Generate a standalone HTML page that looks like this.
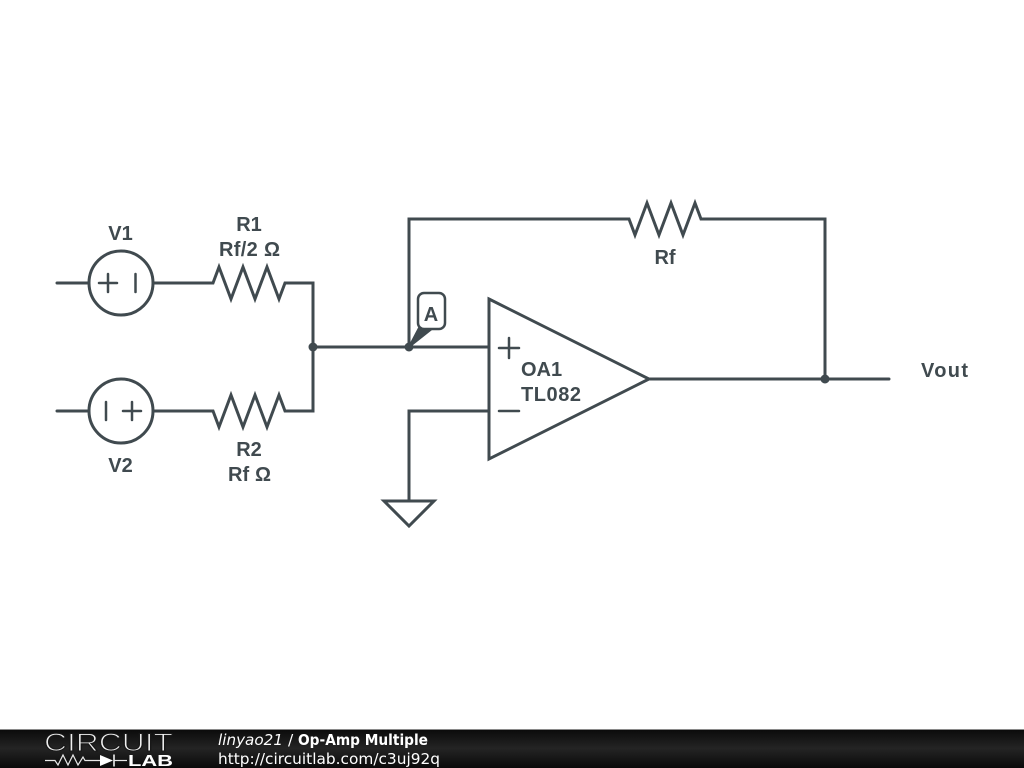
<!DOCTYPE html>
<html>
<head>
<meta charset="utf-8">
<style>
html,body{margin:0;padding:0;background:#fff;width:1024px;height:768px;overflow:hidden}
svg{display:block}
.t{font-family:"Liberation Sans",sans-serif;font-weight:bold;font-size:20px;fill:#404a4f;text-anchor:middle}
.s{text-anchor:start}
.w{fill:none;stroke:#404a4f;stroke-width:3;stroke-linecap:round;stroke-linejoin:miter}
.f{font-family:"DejaVu Sans",sans-serif;font-size:15.5px;fill:#fff}
</style>
</head>
<body>
<svg width="1024" height="768" viewBox="0 0 1024 768" xmlns="http://www.w3.org/2000/svg">
<defs>
<linearGradient id="g" x1="0" y1="0" x2="0" y2="1">
<stop offset="0" stop-color="#0a0a0a"/>
<stop offset="0.5" stop-color="#242424"/>
<stop offset="1" stop-color="#0a0a0a"/>
</linearGradient>
</defs>
<rect width="1024" height="768" fill="#fff"/>

<!-- wires -->
<path class="w" d="M57 283H89M153 283H213L219 267L231 299L243 267L255 299L267 267L279 299L285 283H313V411H285L279 395L267 427L255 395L243 427L231 395L219 427L213 411H153M89 411H57"/>
<path class="w" d="M313 347H489M409 347V219H629L635 235L647 203L659 235L671 203L683 235L695 203L701 219H825V379M649 379H889M489 411H409V501"/>

<!-- sources -->
<circle class="w" cx="121" cy="283" r="32"/>
<circle class="w" cx="121" cy="411" r="32"/>
<path class="w" d="M99 283H117M108 274V292M135.500 274V292M106 402V420M123 411H141M132 402V420" style="stroke-width:2.500"/>

<!-- op amp -->
<path class="w" d="M489 299L649 379L489 459Z"/>
<path class="w" d="M499 348H519M509 338V358M499 411H519" style="stroke-width:2.500"/>

<!-- ground -->
<path class="w" d="M384 501H434L409 526Z"/>

<!-- flag -->
<path d="M409 347L419 328L433 328Z" fill="#404a4f" stroke="#404a4f" stroke-width="2" stroke-linejoin="round"/>
<rect x="418" y="293" width="27" height="36" rx="6" ry="6" fill="#fff" stroke="#404a4f" stroke-width="2.500"/>

<!-- dots -->
<circle cx="313" cy="347" r="4.500" fill="#404a4f"/>
<circle cx="409" cy="347" r="4.500" fill="#404a4f"/>
<circle cx="825" cy="379" r="4.500" fill="#404a4f"/>

<!-- labels -->
<text class="t" x="120.500" y="240">V1</text>
<text class="t" x="120.500" y="472">V2</text>
<text class="t" x="249" y="231">R1</text>
<text class="t s" x="219" y="256" textLength="61">Rf/2 Ω</text>
<text class="t" x="249" y="456">R2</text>
<text class="t s" x="228" y="481" textLength="43">Rf Ω</text>
<text class="t" x="665" y="264">Rf</text>
<text class="t" x="431" y="321">A</text>
<text class="t s" x="521" y="376">OA1</text>
<text class="t s" x="521" y="401" textLength="60">TL082</text>
<text class="t s" x="921" y="377" textLength="47">Vout</text>

<!-- footer -->
<rect x="0" y="729" width="1024" height="39" fill="url(#g)"/>
<rect x="0" y="729" width="1024" height="1" fill="#8a8a8a"/>
<text x="44" y="751" textLength="129" lengthAdjust="spacingAndGlyphs" style="font-family:'Liberation Sans',sans-serif;font-size:25px;fill:#f0f0f0;stroke:#181818;stroke-width:1.100">CIRCUIT</text>
<path d="M45 760.500H55L58 765L63 755L68 765L73 755L78 765L83 757L85 760.500H100" fill="none" stroke="#e8e8e8" stroke-width="1.200"/>
<path d="M100 755V766L113 760.500Z" fill="#fff"/>
<path d="M114 754.500V766.500" stroke="#fff" stroke-width="1.500"/>
<path d="M114 760.500H127" stroke="#e8e8e8" stroke-width="1.200"/>
<text x="128" y="766" textLength="45" lengthAdjust="spacingAndGlyphs" style="font-family:'Liberation Sans',sans-serif;font-weight:bold;font-size:15.500px;fill:#fff">LAB</text>
<text class="f" x="218" y="745" font-style="italic" textLength="65" lengthAdjust="spacingAndGlyphs">linyao21</text>
<text class="f" x="288" y="745">/</text>
<text class="f" x="298" y="745" font-weight="bold" textLength="130" lengthAdjust="spacingAndGlyphs">Op-Amp Multiple</text>
<text class="f" x="218" y="764" textLength="222" lengthAdjust="spacingAndGlyphs">http://circuitlab.com/c3uj92q</text>
</svg>
</body>
</html>
